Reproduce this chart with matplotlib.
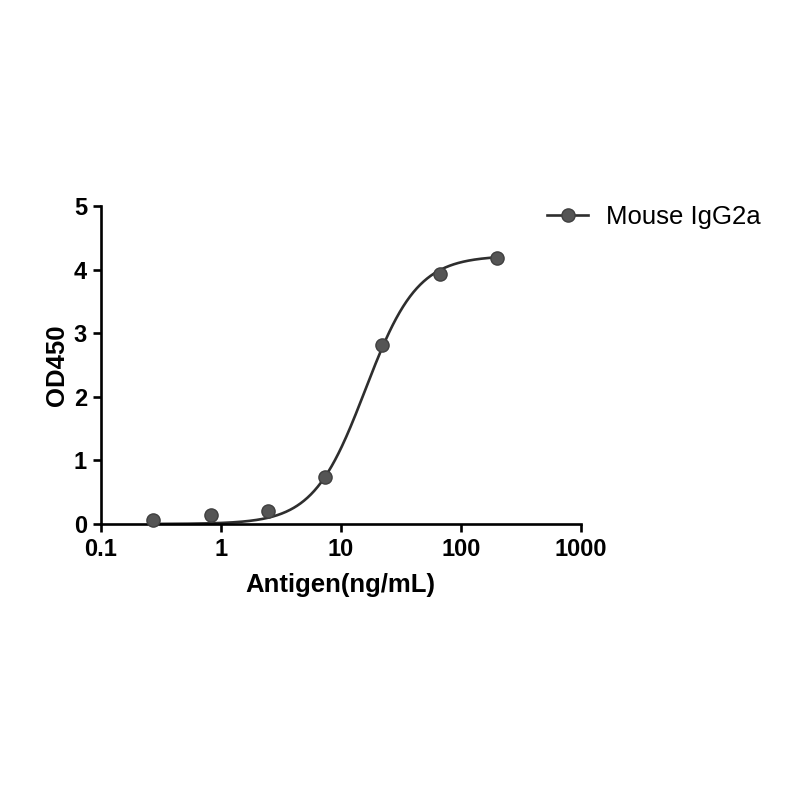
import numpy as np
import matplotlib
matplotlib.use("Agg")
import matplotlib.pyplot as plt
from matplotlib.ticker import FixedLocator, FixedFormatter, NullLocator

# Data
conc = [0.274, 0.823, 2.47, 7.41, 22.2, 66.7, 200.0]
od450 = [0.07, 0.14, 0.20, 0.74, 2.81, 3.93, 4.19]
series_name = "Mouse IgG2a"

# 4PL fit parameters estimated from the drawn curve
fit_bottom = 0.0
fit_top = 4.22
fit_ec50 = 16.0
fit_hill = 2.0

x_ticks = [0.1, 1, 10, 100, 1000]
x_tick_labels = ["0.1", "1", "10", "100", "1000"]
y_ticks = [0, 1, 2, 3, 4, 5]
y_tick_labels = ["0", "1", "2", "3", "4", "5"]

plt.rcParams['font.family'] = ['Liberation Sans', 'DejaVu Sans']

fig = plt.figure(figsize=(8, 8), dpi=100)
ax = fig.add_axes([0.126, 0.345, 0.6, 0.3975])

xs = np.logspace(np.log10(min(conc)), np.log10(max(conc)), 400)
ys = fit_bottom + (fit_top - fit_bottom) / (1 + (fit_ec50 / xs) ** fit_hill)

line_color = "#2e2e2e"
marker_color = "#555555"

ax.plot(xs, ys, color=line_color, lw=1.9, zorder=2)
ax.plot(conc, od450, 'o', color=marker_color, mec="#404040", ms=9.5, zorder=3, clip_on=False)

# legend proxy
proxy, = ax.plot([], [], '-o', color=line_color, mfc=marker_color, mec="#404040", ms=9.5, lw=1.9)
fig.legend([proxy], [series_name], loc='center left', bbox_to_anchor=(0.655, 0.729),
           frameon=False, fontsize=18.5, handlelength=1.6, handletextpad=0.7)

ax.set_xscale('log')
ax.set_xlim(0.1, 1000)
ax.set_ylim(0, 5)
ax.xaxis.set_major_locator(FixedLocator(x_ticks))
ax.xaxis.set_major_formatter(FixedFormatter(x_tick_labels))
ax.xaxis.set_minor_locator(NullLocator())
ax.yaxis.set_major_locator(FixedLocator(y_ticks))
ax.yaxis.set_major_formatter(FixedFormatter(y_tick_labels))

for s in ['top', 'right']:
    ax.spines[s].set_visible(False)
for s in ['left', 'bottom']:
    ax.spines[s].set_linewidth(1.9)
    ax.spines[s].set_color('black')

ax.tick_params(axis='both', which='major', direction='out', length=6, width=1.9,
               labelsize=17, pad=4)
for lab in ax.get_xticklabels() + ax.get_yticklabels():
    lab.set_fontweight('bold')

ax.set_xlabel("Antigen(ng/mL)", fontsize=18.5, fontweight='bold', labelpad=9)
ax.set_ylabel("OD450", fontsize=18.5, fontweight='bold', labelpad=3)

fig.savefig("out.png", dpi=100)
